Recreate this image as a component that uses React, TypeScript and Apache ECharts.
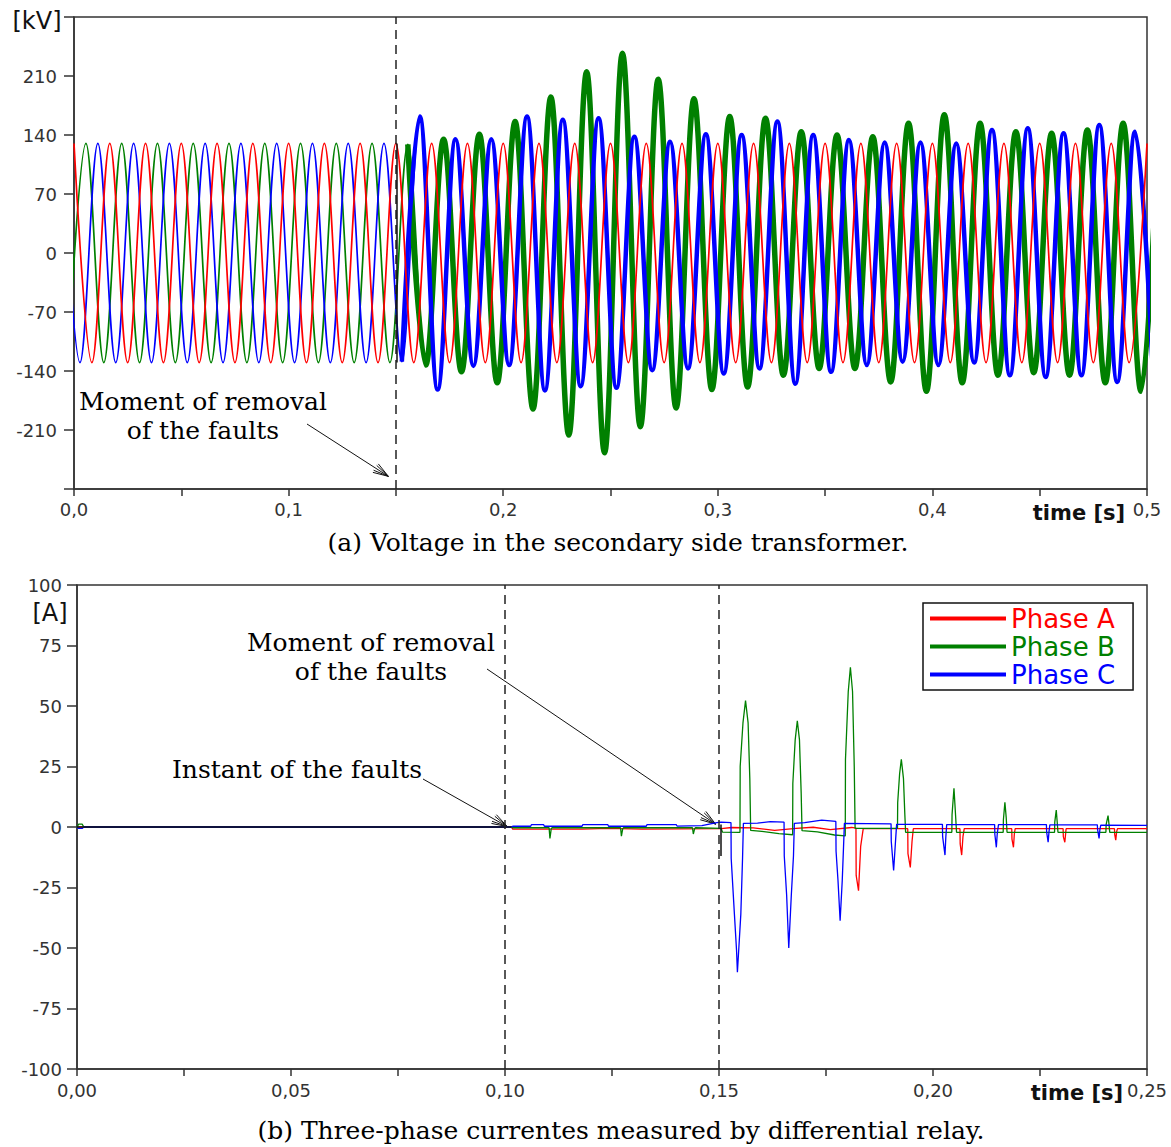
import React, { useEffect, useRef } from "react";
import * as echarts from "echarts";

const WIDTH = 1171;
const HEIGHT = 1147;

// ---------- (a) secondary-side voltages, 60 Hz ----------
// Successive half-cycle extremes (kV) of each phase, one every 1/120 s.
const HALF_CYCLE = 1 / 120;
const VA_START = 0; // first extreme of phase A (s)
const VB_START = -1 / 360; // first extreme of phase B (s)
const VC_START = -1 / 180; // first extreme of phase C (s)

const VA_PEAKS = [
  130, -130, 130, -130, 130, -130, 130, -130, 130, -130,
  130, -130, 130, -130, 130, -130, 130, -130, 130, -130,
  130, -130, 130, -130, 130, -130, 130, -130, 130, -130,
  130, -130, 130, -130, 130, -130, 130, -130, 130, -130,
  130, -130, 130, -130, 130, -130, 130, -130, 130, -130,
  130, -130, 130, -130, 130, -130, 130, -130, 130, -130,
  130,
];

const VB_PEAKS = [
  -130, 130, -130, 130, -130, 130, -130, 130, -130, 130,
  -130, 130, -130, 130, -130, 130, -130, 130, -130,
  129, -133, 135, -141, 141, -154, 156, -185, 185, -216,
  215, -237, 237, -206, 206, -184, 183, -162, 162, -159,
  160, -145, 144, -137, 140, -137, 138, -153, 154, -164,
  164, -154, 154, -145, 144, -142, 142, -145, 146, -154,
  154, -164, 164,
];

const VC_PEAKS = [
  130, -130, 130, -130, 130, -130, 130, -130, 130, -130,
  130, -130, 130, -130, 130, -130, 130, -130, 130,
  -129, 162, -162, 135, -134, 135, -133, 162, -163, 158,
  -158, 160, -160, 138, -139, 132, -137, 141, -143, 140,
  -137, 156, -155, 140, -141, 134, -133, 131, -129, 131,
  -133, 130, -130, 146, -145, 148, -147, 142, -145, 152,
  -153, 144, -144,
];

// first extreme after the faults are removed (index into the arrays above)
const VB_POST = 19;
const VC_POST = 19;

const FAULT_INSTANT = 0.1015;
const FAULT_REMOVAL = 0.1505;

// ---------- (b) differential relay currents [t (s), i (A)] ----------
const ZERO_TRACE = [
  [0, 0],
  [FAULT_INSTANT, 0],
];

const CURRENT_A = [
  [0, 0], [0.1015, 0], [0.1018, -0.9], [0.118, -0.9], [0.124, -0.6], [0.132, -0.9], [0.1505, -0.7],
  [0.153, -0.2], [0.158, -0.4], [0.163, -1.4], [0.168, -0.6], [0.172, -0.1], [0.176, -1.1], [0.181, -0.2],
  [0.182, -0.5], [0.18205, -20], [0.1826, -26.3], [0.1831, -8], [0.1837, -0.7],
  [0.1941, -0.7], [0.19415, -11], [0.1947, -16.7], [0.1951, -6], [0.1954, -0.7],
  [0.2063, -0.7], [0.20635, -7], [0.2067, -11.6], [0.207, -4], [0.2073, -0.7],
  [0.2184, -0.7], [0.21845, -5], [0.2188, -8.4], [0.219, -3], [0.2192, -0.7],
  [0.2304, -0.7], [0.23045, -4], [0.2308, -6.3], [0.231, -2.5], [0.2311, -0.7],
  [0.2424, -0.7], [0.24245, -3], [0.2427, -5.4], [0.2429, -2], [0.2431, -0.7],
  [0.25, -0.7],
];

const CURRENT_B = [
  [0, 0], [0.0004, 1.2], [0.0012, 1.2], [0.0016, 0], [0.1015, 0], [0.1018, -0.3],
  [0.1103, -0.3], [0.1105, -4.7], [0.1108, -0.8], [0.111, -0.3],
  [0.127, -0.3], [0.1272, -3.8], [0.1275, -0.8], [0.1277, -0.3],
  [0.1438, -0.3], [0.144, -2.9], [0.1443, -0.8], [0.1445, -0.3],
  [0.1505, -0.6], [0.1508, -2.1], [0.1549, -2.2], [0.15495, 25], [0.1556, 43], [0.1562, 52.2],
  [0.1568, 43], [0.1572, 20], [0.1574, -1.4],
  [0.16, -1.8], [0.164, -2.7], [0.1672, -3.2], [0.16725, 18], [0.1678, 36], [0.1683, 43.9],
  [0.1688, 36], [0.1692, 14], [0.1694, -1.5],
  [0.173, -2], [0.177, -3.3], [0.1795, -3.7], [0.17955, 28], [0.1802, 56], [0.1807, 66],
  [0.1812, 56], [0.1816, 25], [0.1818, -0.6],
  [0.1917, -0.6], [0.19175, 10], [0.1922, 22], [0.1926, 28], [0.1931, 20], [0.1934, 6], [0.1936, -2.2],
  [0.2044, -2.2], [0.20445, 5], [0.2049, 16], [0.2052, 7], [0.2055, -2.2],
  [0.2164, -2.2], [0.21645, 3], [0.2168, 10.2], [0.2171, 4], [0.2173, -2.2],
  [0.2284, -2.2], [0.22845, 2], [0.2288, 7], [0.229, 2.5], [0.2292, -2.2],
  [0.2404, -2.2], [0.24045, 1], [0.2409, 4.7], [0.2411, 1.5], [0.2413, -2.2],
  [0.25, -2.2],
];

const CURRENT_C = [
  [0, 0], [0.0004, -0.6], [0.0012, -0.6], [0.0016, 0], [0.1015, 0], [0.1018, 0.3],
  [0.106, 0.3], [0.1062, 1], [0.109, 1], [0.1092, 0.3], [0.118, 0.3], [0.1182, 1], [0.124, 1],
  [0.1242, 0.3], [0.133, 0.3], [0.1332, 1], [0.14, 1], [0.1402, 0.4], [0.146, 0.6], [0.1495, 1.8],
  [0.1505, 2],
  [0.1528, 1.8], [0.15285, -13], [0.1536, -36], [0.1541, -51], [0.1543, -60], [0.1546, -51],
  [0.1551, -36], [0.1555, -13], [0.1557, 1.5],
  [0.159, 1.6], [0.162, 2.2], [0.1652, 2], [0.16525, -12], [0.1658, -28], [0.1663, -50],
  [0.1669, -28], [0.1674, -12], [0.1676, 1.5],
  [0.17, 1.8], [0.174, 2.8], [0.1773, 2.3], [0.17735, -10], [0.1778, -22], [0.1783, -38.7],
  [0.1788, -22], [0.1791, -8], [0.1793, 1.5],
  [0.1902, 1.3], [0.19025, -6], [0.1908, -18], [0.1912, -7], [0.1915, 1.1],
  [0.2022, 1.1], [0.20225, -4], [0.2028, -11.6], [0.203, -4], [0.2032, 1],
  [0.2144, 1], [0.21445, -3], [0.2148, -8.4], [0.215, -3], [0.2153, 1],
  [0.2265, 1], [0.22655, -2], [0.2269, -6.3], [0.2271, -2], [0.2273, 0.9],
  [0.2384, 0.9], [0.23845, -1], [0.2388, -4.7], [0.239, -1], [0.2392, 0.8],
  [0.25, 0.7],
];

const PHASE_NAMES = ["Phase A", "Phase B", "Phase C"];
const PHASE_COLORS = ["#ff0000", "#008000", "#0000ff"];

const SANS = "DejaVu Sans";
const SERIF = "DejaVu Serif";
const AXIS_COLOR = "#333";

const toPoints = (start: number, values: number[]) =>
  values.map((v, i) => [start + i * HALF_CYCLE, v]);

const waveStyle = {
  type: "line",
  xAxisIndex: 0,
  yAxisIndex: 0,
  showSymbol: false,
  symbol: "none",
  smooth: 0.364,
  smoothMonotone: "x",
  clip: true,
  silent: true,
};

const currentStyle = {
  type: "line",
  xAxisIndex: 1,
  yAxisIndex: 1,
  showSymbol: false,
  symbol: "none",
  clip: true,
  silent: true,
};

const dashedLine = (x: number) => ({
  xAxis: x,
  lineStyle: { type: [9, 6], color: "#222", width: 1.5 },
});

function arrow(from: number[], to: number[]) {
  const ang = Math.atan2(to[1] - from[1], to[0] - from[0]);
  const stroke = { stroke: "#111", lineWidth: 1 };
  const els: any[] = [
    { type: "line", shape: { x1: from[0], y1: from[1], x2: to[0], y2: to[1] }, style: stroke },
  ];
  for (const d of [-0.32, -0.18, 0.18, 0.32]) {
    const a = ang + Math.PI + d;
    els.push({
      type: "line",
      shape: { x1: to[0], y1: to[1], x2: to[0] + 16 * Math.cos(a), y2: to[1] + 16 * Math.sin(a) },
      style: stroke,
    });
  }
  return els;
}

const serifText = (text: string, x: number, y: number, size = 25) => ({
  type: "text",
  x,
  y,
  style: {
    text,
    fill: "#000",
    fontSize: size,
    fontFamily: SERIF,
    align: "center",
    verticalAlign: "middle",
    lineHeight: 29,
  },
});

const sansText = (text: string, x: number, y: number, size: number, bold = false) => ({
  type: "text",
  x,
  y,
  style: {
    text,
    fill: "#111",
    fontSize: size,
    fontWeight: bold ? "bold" : "normal",
    fontFamily: SANS,
    align: "center",
    verticalAlign: "middle",
  },
});

export default function App() {
  const ref = useRef<HTMLDivElement>(null);

  useEffect(() => {
    if (!ref.current) return;
    const chart = echarts.init(ref.current, undefined, { renderer: "svg" });

    const axisLine = { show: true, onZero: false, lineStyle: { color: AXIS_COLOR, width: 1.5 } };
    const tickStyle = { color: AXIS_COLOR, width: 1.5 };
    const labelStyle = { color: "#333", fontSize: 18, fontFamily: SANS };

    const vaPts = toPoints(VA_START, VA_PEAKS);
    const vbPts = toPoints(VB_START, VB_PEAKS);
    const vcPts = toPoints(VC_START, VC_PEAKS);

    chart.setOption({
      animation: false,
      backgroundColor: "#fff",
      grid: [
        { left: 74, top: 17, width: 1073, height: 472, show: true, borderColor: AXIS_COLOR, borderWidth: 1.5 },
        { left: 77, top: 585, width: 1070, height: 484, show: true, borderColor: AXIS_COLOR, borderWidth: 1.5 },
      ],
      xAxis: [
        {
          type: "value",
          gridIndex: 0,
          min: 0,
          max: 0.5,
          interval: 0.05,
          axisLine,
          axisTick: { show: true, length: 7, lineStyle: tickStyle },
          splitLine: { show: false },
          axisLabel: {
            ...labelStyle,
            margin: 11,
            formatter: (v: number) =>
              Math.round(v * 100) % 10 === 0 ? v.toFixed(1).replace(".", ",") : "",
          },
        },
        {
          type: "value",
          gridIndex: 1,
          min: 0,
          max: 0.25,
          interval: 0.025,
          axisLine,
          axisTick: { show: true, length: 7, lineStyle: tickStyle },
          splitLine: { show: false },
          axisLabel: {
            ...labelStyle,
            margin: 12,
            formatter: (v: number) =>
              Math.round(v * 1000) % 50 === 0 ? v.toFixed(2).replace(".", ",") : "",
          },
        },
      ],
      yAxis: [
        {
          type: "value",
          gridIndex: 0,
          min: -280,
          max: 280,
          interval: 70,
          axisLine,
          axisTick: { show: true, length: 10, lineStyle: tickStyle },
          splitLine: { show: false },
          axisLabel: {
            ...labelStyle,
            margin: 17,
            formatter: (v: number) => (Math.abs(v) === 280 ? "" : String(v)),
          },
        },
        {
          type: "value",
          gridIndex: 1,
          min: -100,
          max: 100,
          interval: 25,
          axisLine,
          axisTick: { show: true, length: 10, lineStyle: tickStyle },
          splitLine: { show: false },
          axisLabel: { ...labelStyle, margin: 15 },
        },
      ],
      legend: {
        data: PHASE_NAMES.map((name, i) => ({ name, textStyle: { color: PHASE_COLORS[i] } })),
        orient: "vertical",
        left: 923,
        top: 603,
        padding: [2, 18, 2, 7],
        itemWidth: 76,
        itemHeight: 4,
        itemGap: 1,
        icon: "rect",
        selectedMode: false,
        borderColor: "#111",
        borderWidth: 1.5,
        backgroundColor: "#fff",
        textStyle: { fontSize: 26, lineHeight: 27, fontFamily: SANS },
      },
      series: [
        // (a) voltages
        {
          ...waveStyle,
          name: "Vb",
          data: vbPts,
          lineStyle: { color: PHASE_COLORS[1], width: 1.7 },
        },
        {
          ...waveStyle,
          name: "Vc",
          data: vcPts,
          lineStyle: { color: PHASE_COLORS[2], width: 1.7 },
        },
        {
          ...waveStyle,
          name: "Vb ripple",
          data: vbPts.slice(VB_POST),
          lineStyle: { color: PHASE_COLORS[1], width: 5.5 },
        },
        {
          ...waveStyle,
          name: "Vc ripple",
          data: vcPts.slice(VC_POST),
          lineStyle: { color: PHASE_COLORS[2], width: 4.5 },
        },
        {
          ...waveStyle,
          name: "Va",
          data: vaPts,
          lineStyle: { color: PHASE_COLORS[0], width: 1.7 },
          markLine: {
            silent: true,
            symbol: "none",
            label: { show: false },
            data: [
              dashedLine(FAULT_REMOVAL),
              [
                { coord: [FAULT_REMOVAL, 130], lineStyle: { type: "solid", color: "#111", width: 1.5 } },
                { coord: [FAULT_REMOVAL, -130] },
              ],
            ],
          },
        },
        // (b) currents
        ...[CURRENT_A, CURRENT_B, CURRENT_C].map((data, i) => ({
          ...currentStyle,
          name: PHASE_NAMES[i],
          data,
          color: PHASE_COLORS[i],
          lineStyle: { color: PHASE_COLORS[i], width: 1.3 },
          markLine:
            i === 0
              ? {
                  silent: true,
                  symbol: "none",
                  label: { show: false },
                  data: [
                    dashedLine(FAULT_INSTANT),
                    dashedLine(FAULT_REMOVAL),
                    [
                      { coord: [FAULT_REMOVAL, 1], lineStyle: { type: "solid", color: "#111", width: 1.5 } },
                      { coord: [FAULT_REMOVAL, -12] },
                    ],
                  ],
                }
              : undefined,
        })),
        {
          ...currentStyle,
          name: "zero",
          data: ZERO_TRACE,
          lineStyle: { color: "#111", width: 1.5 },
        },
      ],
    });

    const px = (g: number, x: number, y: number) =>
      chart.convertToPixel({ xAxisIndex: g, yAxisIndex: g }, [x, y]) as number[];

    chart.setOption({
      graphic: [
        sansText("[kV]", 37, 21, 24),
        sansText("[A]", 50, 613, 24),
        sansText("time [s]", 1079, 513, 21, true),
        sansText("time [s]", 1077, 1093, 21, true),
        serifText("Moment of removal\nof the faults", 203, 416),
        ...arrow([307, 424], px(0, 0.1465, -265)),
        serifText("(a) Voltage in the secondary side transformer.", 618, 542),
        serifText("Moment of removal\nof the faults", 371, 657),
        ...arrow([487, 669], px(1, 0.1492, 1.2)),
        serifText("Instant of the faults", 297, 769),
        ...arrow([423, 779], px(1, 0.1005, 0.2)),
        serifText("(b) Three-phase currentes measured by differential relay.", 621, 1130),
      ],
    });

    return () => chart.dispose();
  }, []);

  return (
    <div
      ref={ref}
      style={{ position: "absolute", left: 0, top: 0, width: WIDTH, height: HEIGHT, background: "#fff" }}
    />
  );
}
